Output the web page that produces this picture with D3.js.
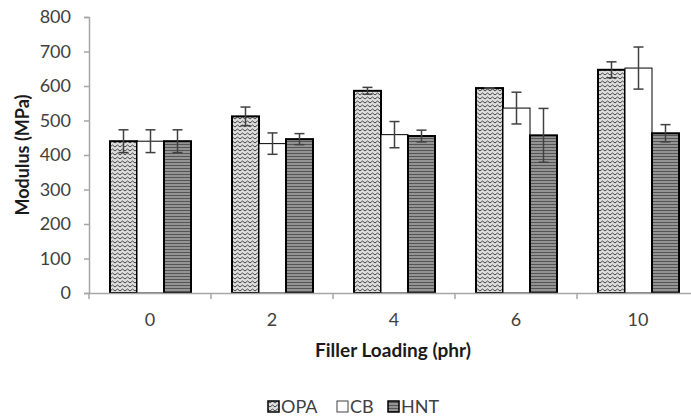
<!DOCTYPE html>
<html><head><meta charset="utf-8">
<script src="https://cdn.jsdelivr.net/npm/d3@7"></script>
<style>body{margin:0;background:#fff;}svg{display:block;font-family:Lato,"Open Sans",sans-serif;}</style>
</head><body><svg id="c" width="691" height="416"></svg>
<script>
const categories = ["0","2","4","6","10"];
const seriesNames = ["OPA","CB","HNT"];
const opa = [440, 512, 586, 594, 647];
const opaErr = [33, 27, 10, 1, 23];
const cb = [440, 433, 459, 536, 652];
const cbErr = [33, 31, 38, 46, 61];
const hnt = [440, 446, 455, 457, 463];
const hntErr = [33, 16, 17, 78, 25];
const yTicks = [0,100,200,300,400,500,600,700,800];

const svg = d3.select("#c");
const defs = svg.append("defs");
// zigzag pattern
const pz = defs.append("pattern").attr("id","zig").attr("patternUnits","userSpaceOnUse").attr("width",5).attr("height",4);
pz.append("rect").attr("width",5).attr("height",4).attr("fill","#dedede");
pz.append("path").attr("d","M0,3 L2.5,1 L5,3").attr("fill","none").attr("stroke","#444").attr("stroke-width",1);
// horizontal stripes pattern
const ph = defs.append("pattern").attr("id","hstr").attr("patternUnits","userSpaceOnUse").attr("width",6).attr("height",3);
ph.append("rect").attr("width",6).attr("height",3).attr("fill","#949494");
ph.append("rect").attr("y",0).attr("width",6).attr("height",1).attr("fill","#555");

const x0 = d3.scaleBand().domain(categories).range([89, 699]).paddingInner(0).paddingOuter(0);
const x1 = d3.scaleBand().domain(seriesNames).range([21, 102]);
const y = d3.scaleLinear().domain([0,800]).range([293,17]);

const fills = {OPA:"url(#zig)", CB:"#ffffff", HNT:"url(#hstr)"};
const strokeW = {OPA:2, CB:1, HNT:2};
const vals = {OPA:opa, CB:cb, HNT:hnt};
const errs = {OPA:opaErr, CB:cbErr, HNT:hntErr};
const font = "Lato,'Open Sans',sans-serif";

// y axis
const yAxis = svg.append("g").attr("transform","translate(89,0)")
  .call(d3.axisLeft(y).tickValues(yTicks).tickSize(5).tickPadding(13).tickFormat(d3.format("d")));
yAxis.select(".domain").attr("stroke","#a6a6a6").attr("stroke-width",1.5);
yAxis.selectAll(".tick line").attr("stroke","#a6a6a6").attr("stroke-width",1.5);
yAxis.selectAll("text").attr("font-size",18).attr("fill","#404040").attr("font-family",font);

// bars
const data = [];
categories.forEach((c,i)=>seriesNames.forEach(s=>data.push({c, s, v:vals[s][i], e:errs[s][i]})));
const bars = svg.append("g");
bars.selectAll("rect").data(data).join("rect")
  .attr("x", d=>x0(d.c)+x1(d.s))
  .attr("y", d=>y(d.v))
  .attr("width", x1.bandwidth())
  .attr("height", d=>y(0)-y(d.v))
  .attr("fill", d=>fills[d.s])
  .attr("stroke", "#000")
  .attr("stroke-width", d=>strokeW[d.s]);

// x axis
const xAxis = svg.append("g").attr("transform","translate(0,293)")
  .call(d3.axisBottom(x0).tickSize(0).tickPadding(20));
xAxis.select(".domain").attr("stroke","#a6a6a6").attr("stroke-width",1.5);
xAxis.selectAll("text").attr("font-size",18).attr("fill","#404040").attr("font-family",font);
svg.append("g").selectAll("line").data(categories.concat(["end"])).join("line")
  .attr("x1",(d,i)=> i<categories.length ? x0(d) : x0.range()[1])
  .attr("x2",(d,i)=> i<categories.length ? x0(d) : x0.range()[1])
  .attr("y1",293).attr("y2",299).attr("stroke","#a6a6a6").attr("stroke-width",1.5);

// error bars
const eg = svg.append("g").attr("stroke","#404040").attr("stroke-width",1.5);
data.forEach(d=>{
  const cx = x0(d.c)+x1(d.s)+x1.bandwidth()/2;
  eg.append("line").attr("x1",cx).attr("x2",cx).attr("y1",y(d.v+d.e)).attr("y2",y(d.v-d.e));
  eg.append("line").attr("x1",cx-5).attr("x2",cx+5).attr("y1",y(d.v+d.e)).attr("y2",y(d.v+d.e));
  eg.append("line").attr("x1",cx-5).attr("x2",cx+5).attr("y1",y(d.v-d.e)).attr("y2",y(d.v-d.e));
});

// axis titles
svg.append("text").attr("transform","translate(29,155) rotate(-90)").attr("text-anchor","middle")
  .attr("font-size",18).attr("font-weight","bold").attr("fill","#1a1a1a").text("Modulus (MPa)");
svg.append("text").attr("x",393).attr("y",357).attr("text-anchor","middle")
  .attr("font-size",19).attr("font-weight","bold").attr("fill","#1a1a1a").text("Filler Loading (phr)");

// legend
const legX = {OPA:268, CB:337, HNT:388};
const lg = svg.append("g");
seriesNames.forEach(s=>{
  lg.append("rect").attr("x",legX[s]).attr("y",401).attr("width",11).attr("height",11)
    .attr("fill",fills[s]).attr("stroke",s==="CB"?"#404040":"#000").attr("stroke-width",s==="CB"?1:1.5);
  lg.append("text").attr("x",legX[s]+13).attr("y",413).attr("font-size",18).attr("fill","#404040").text(s);
});
</script></body></html>
